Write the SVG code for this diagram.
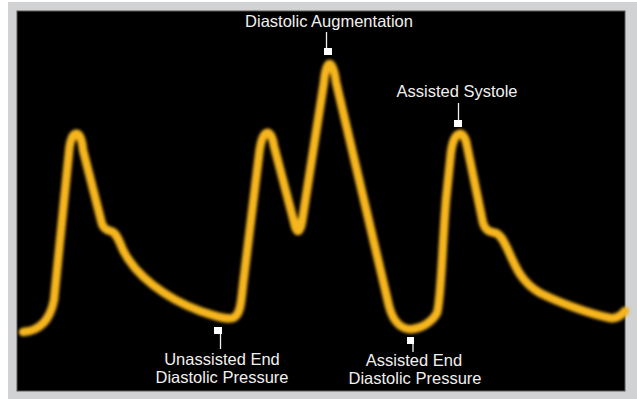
<svg xmlns="http://www.w3.org/2000/svg" width="637" height="399" viewBox="0 0 637 399">
  <defs>
    <filter id="glow" x="-5%" y="-5%" width="110%" height="110%">
      <feGaussianBlur stdDeviation="1.4"/>
    </filter>
  </defs>
  <style>
    .lbl { font-family: "Liberation Sans", Arial, sans-serif; font-size: 16.5px; fill: #f0f0f0; text-anchor: middle; }
    .tick { stroke: #f0f0f0; stroke-width: 1.3; fill: none; }
    .mark { fill: #ffffff; }
    .wave { fill: none; stroke: #f6b51c; stroke-width: 8.5; stroke-linecap: round; stroke-linejoin: round; }
  </style>
  <rect x="0" y="0" width="637" height="399" fill="#ffffff"/>
  <rect x="8" y="2" width="629" height="397" fill="#d1d2d4"/>
  <rect x="17" y="11" width="608" height="380" fill="#000000" stroke="#5a5a5a" stroke-width="1"/>

  <g id="waveform">
    <path class="wave" filter="url(#glow)" d="M 23 332 C 40 331, 50 320, 54 300 L 69 152 C 71 128, 81 128, 83 150 L 102 224 C 105 231, 109 230, 113 232 C 117 235, 119 240, 123 250 C 135 275, 165 298, 200 311 C 215 316, 226 320, 233 318 C 240 315, 241 305, 243 285 L 259 155 C 262 127, 271 127, 274 146 L 294 222 C 296 234, 300 234, 302 222 L 324 82 C 326 58, 333 58, 336 82 L 389 306 C 394 325, 404 330, 413 329 C 422 328, 432 322, 437 313 C 441 300, 442 250, 446 200 L 451 152 C 454 130, 464 128, 467 146 L 483 223 C 486 232, 491 232, 496 233 C 501 235, 503 240, 508 250 C 516 268, 522 283, 540 293 C 560 303, 590 314, 610 318 C 617 319, 621 316, 625 311"/>
  </g>

  <g id="connectors">
    <line class="tick" x1="326.5" y1="32" x2="326.5" y2="49"/>
    <line class="tick" x1="458.5" y1="103" x2="458.5" y2="121"/>
    <line class="tick" x1="220.5" y1="333" x2="220.5" y2="349"/>
    <line class="tick" x1="413" y1="343" x2="413" y2="352"/>
  </g>

  <g id="diastolic-augmentation">
    <rect class="mark" x="324" y="48" width="8" height="7"/>
    <text class="lbl" x="329" y="27">Diastolic Augmentation</text>
  </g>

  <g id="assisted-systole">
    <rect class="mark" x="454" y="120" width="8" height="7"/>
    <text class="lbl" x="457" y="97">Assisted Systole</text>
  </g>

  <g id="unassisted-end-diastolic">
    <rect class="mark" x="214" y="327" width="8" height="7"/>
    <text class="lbl" x="222" y="365">Unassisted End</text>
    <text class="lbl" x="222" y="383">Diastolic Pressure</text>
  </g>

  <g id="assisted-end-diastolic">
    <rect class="mark" x="407" y="337" width="7" height="7"/>
    <text class="lbl" x="414" y="366">Assisted End</text>
    <text class="lbl" x="415" y="384">Diastolic Pressure</text>
  </g>
</svg>
